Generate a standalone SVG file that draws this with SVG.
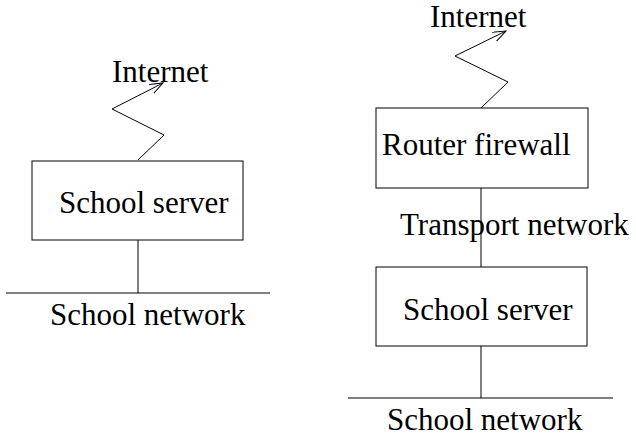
<svg xmlns="http://www.w3.org/2000/svg" width="636" height="437" viewBox="0 0 636 437">
<style>
.t{font-family:"Liberation Serif","Times New Roman",serif;font-size:31px;fill:#000}
.b{fill:#fff;stroke:#000;stroke-width:1}
.c{fill:none;stroke:#000;stroke-width:1}
</style>
<defs>
<marker id="arr" markerUnits="userSpaceOnUse" markerWidth="16" markerHeight="12" refX="13" refY="5" orient="auto">
<path d="M0,0 L13,5 L0,10" fill="none" stroke="#000" stroke-width="1"/>
</marker>
</defs>
<rect width="636" height="437" fill="#fff"/>
<g id="connectors">
<polyline class="c" points="138,160 164,135 112,109 163,83" marker-end="url(#arr)"/>
<line class="c" x1="138" y1="240" x2="138" y2="293"/>
<line class="c" x1="6" y1="293" x2="270" y2="293"/>
<polyline class="c" points="481,108 508,82 455,56 506,31" marker-end="url(#arr)"/>
<line class="c" x1="481" y1="188" x2="481" y2="267"/>
<line class="c" x1="481" y1="346" x2="481" y2="398"/>
<line class="c" x1="348" y1="398" x2="613" y2="398"/>
</g>
<g id="internet-left"><text class="t" x="112" y="82">Internet</text></g>
<g id="server-left">
<rect class="b" x="32" y="161" width="211" height="79"/>
<text class="t" x="59" y="213">School server</text>
</g>
<g id="network-left"><text class="t" x="50" y="325">School network</text></g>
<g id="internet-right"><text class="t" x="430" y="27">Internet</text></g>
<g id="router">
<rect class="b" x="376" y="108" width="212" height="80"/>
<text class="t" x="382" y="155">Router firewall</text>
</g>
<g id="transport"><text class="t" x="400" y="235">Transport network</text></g>
<g id="server-right">
<rect class="b" x="376" y="267" width="211" height="79"/>
<text class="t" x="403" y="320">School server</text>
</g>
<g id="network-right"><text class="t" x="387" y="430">School network</text></g>
</svg>
